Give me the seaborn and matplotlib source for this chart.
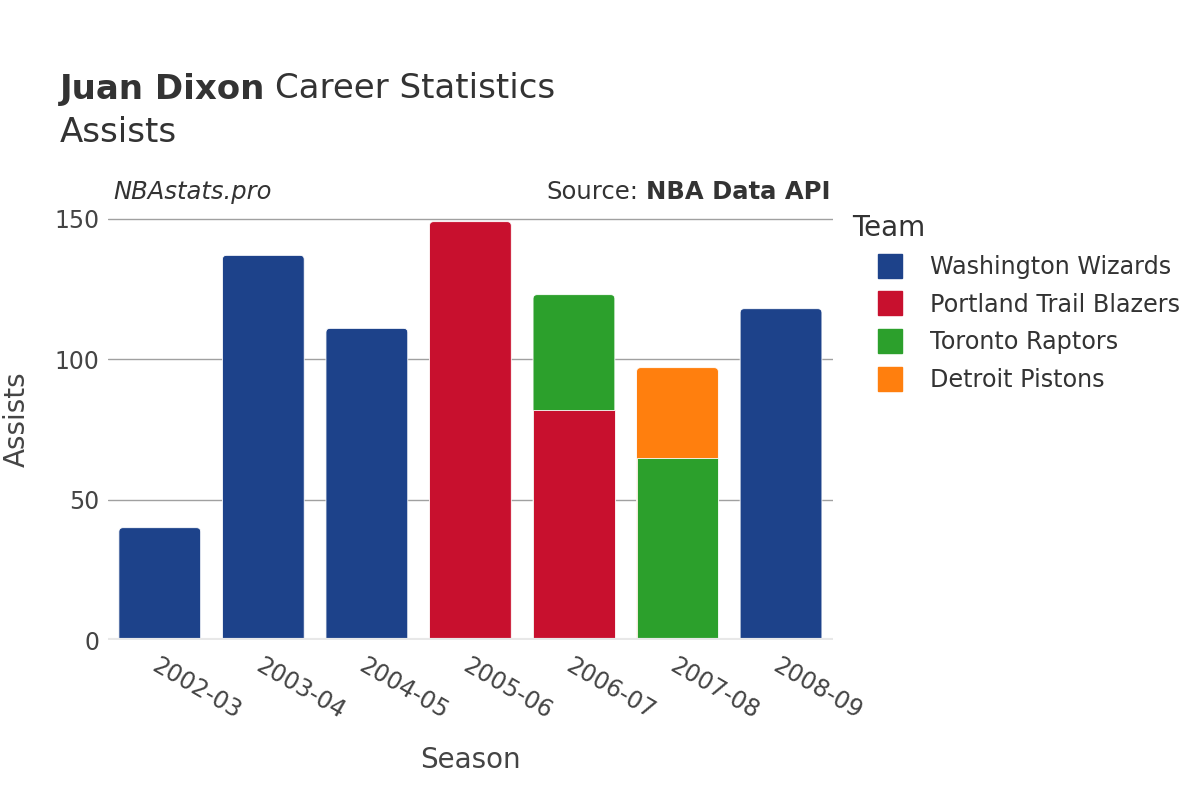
import matplotlib
matplotlib.use("Agg")
import matplotlib.pyplot as plt
from matplotlib.lines import Line2D
from matplotlib.patches import FancyBboxPatch
import seaborn as sns
import pandas as pd

# data
seasons = ["2002-03", "2003-04", "2004-05", "2005-06", "2006-07", "2007-08", "2008-09"]
teams = ["Washington Wizards", "Portland Trail Blazers", "Toronto Raptors", "Detroit Pistons"]
team_colors = ["#1d428a", "#c8102e", "#2ca02c", "#ff7f0e"]
row_season = ["2002-03", "2003-04", "2004-05", "2005-06", "2006-07", "2006-07", "2007-08", "2007-08", "2008-09"]
row_team = ["Washington Wizards", "Washington Wizards", "Washington Wizards", "Portland Trail Blazers",
            "Portland Trail Blazers", "Toronto Raptors", "Toronto Raptors", "Detroit Pistons", "Washington Wizards"]
row_assists = [40, 137, 111, 149, 82, 41, 65, 32, 118]

df = pd.DataFrame({"Season": row_season, "Team": row_team, "Assists": row_assists})
# stack in the order the rows appear within each season
df["Top"] = df.groupby("Season")["Assists"].cumsum()
df["Level"] = df.groupby("Season").cumcount()
df["IsTop"] = df["Top"] == df.groupby("Season")["Assists"].transform("sum")

sns.set_theme(style="white")
plt.rcParams["font.family"] = ["DejaVu Sans"]

fig = plt.figure(figsize=(12, 8), dpi=100)
ax = fig.add_axes([0.09, 0.2, 0.604, 0.551])
ax.set_ylim(0, 157)
ax.set_xlim(-0.5, len(seasons) - 0.5)

# x units -> y units, so corners come out round in pixels
aspect = (157 / (0.551 * 800)) / (len(seasons) / (0.604 * 1200))

# draw the highest segments first so lower ones sit on top
for lvl in sorted(df["Level"].unique(), reverse=True):
    part = df[df["Level"] == lvl]
    for team, color in zip(teams, team_colors):
        sub = part[part["Team"] == team]
        if sub.empty:
            continue
        n0 = len(ax.patches)
        sns.barplot(data=sub, x="Season", y="Top", order=seasons, color=color, saturation=1,
                    width=0.79, edgecolor="white", linewidth=0.6, ax=ax, zorder=3)
        tops = set(sub.loc[sub["IsTop"], "Season"])
        for p in list(ax.patches[n0:]):
            if p.get_height() <= 0:
                continue
            xc = p.get_x() + p.get_width() / 2
            if seasons[int(round(xc))] not in tops:
                continue
            # swap for a box with rounded top corners (bottom sits below the clipped axis)
            rb = FancyBboxPatch((p.get_x(), -3), p.get_width(), p.get_height() + 3,
                                boxstyle="round,pad=0,rounding_size=0.04",
                                mutation_aspect=aspect, facecolor=color,
                                edgecolor="white", linewidth=0.6, zorder=3)
            p.remove()
            ax.add_patch(rb)

ax.set_ylim(0, 157)
ax.set_xlim(-0.5, len(seasons) - 0.5)
ax.set_yticks([0, 50, 100, 150])
ax.yaxis.grid(True, color="#a0a0a0", linewidth=1)
ax.set_axisbelow(True)
ax.axhline(0, color="#e8e8e8", linewidth=3, zorder=4)
for s in ax.spines.values():
    s.set_visible(False)

ax.tick_params(axis="y", labelsize=17, colors="#444444", length=0, pad=6)
ax.tick_params(axis="x", labelsize=17, colors="#444444", length=0, pad=10)
for lab in ax.get_xticklabels():
    lab.set_rotation(-30)
    lab.set_ha("left")
    lab.set_rotation_mode("anchor")

ax.set_xlabel("Season", fontsize=20, color="#444444")
ax.set_ylabel("Assists", fontsize=20, color="#444444")
ax.xaxis.set_label_coords(0.5, -(760 - 640) / (0.551 * 800), transform=ax.transAxes)
ax.yaxis.set_label_coords(-(108 - 17) / (0.604 * 1200), 0.5, transform=ax.transAxes)
ax.xaxis.label.set_va("center")
ax.yaxis.label.set_va("center")

# title in two weights
fig.canvas.draw()
r = fig.canvas.get_renderer()
t1 = fig.text(60 / 1200, 1 - 89 / 800, "Juan Dixon", fontsize=24.5, fontweight="bold",
              color="#333333", va="center")
bb = t1.get_window_extent(r)
fig.text((bb.x1 + 10) / 1200, 1 - 89 / 800, "Career Statistics", fontsize=24.5,
         color="#333333", va="center")
fig.text(60 / 1200, 1 - 132 / 800, "Assists", fontsize=24.5, color="#333333", va="center")

fig.text(113 / 1200, 1 - 192 / 800, "NBAstats.pro", fontsize=17.5, style="italic",
         color="#333333", va="center")
t2 = fig.text(830 / 1200, 1 - 192 / 800, "NBA Data API", fontsize=17.5, fontweight="bold",
              color="#333333", va="center", ha="right")
bb2 = t2.get_window_extent(r)
fig.text((bb2.x0 - 7) / 1200, 1 - 192 / 800, "Source:", fontsize=17.5,
         color="#333333", va="center", ha="right")

handles = [Line2D([0], [0], marker="s", linestyle="", markersize=17, markerfacecolor=c,
                  markeredgecolor=c) for c in team_colors]
leg = fig.legend(handles, teams, title="Team", loc="upper left",
                 bbox_to_anchor=(843 / 1200, 1 - 204 / 800), frameon=False,
                 fontsize=17.2, title_fontsize=20, labelspacing=0.57,
                 handletextpad=0.15, handlelength=3.1, borderaxespad=0)
leg._legend_box.align = "left"
for t in leg.get_texts():
    t.set_color("#333333")
leg.get_title().set_color("#333333")

fig.savefig("out.png", dpi=100, facecolor="white")
